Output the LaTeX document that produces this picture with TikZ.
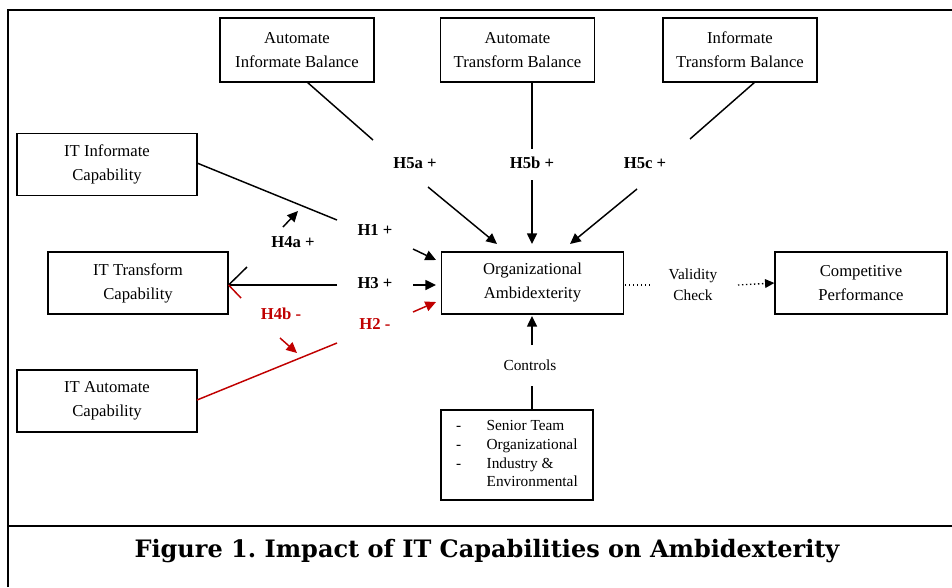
\documentclass[tikz,border=0pt]{standalone}
\usepackage{fontspec}
\setmainfont{Liberation Serif}
\newfontfamily\capfont{DejaVu Serif}
\usetikzlibrary{arrows.meta}
\definecolor{hred}{RGB}{192,0,0}
\frenchspacing
\begin{document}
\begin{tikzpicture}[x=0.75pt,y=-0.75pt,
  box/.style={draw,line width=0.9pt,align=center,inner sep=0pt,font=\fontsize{12.5}{18}\selectfont},
  lbl/.style={inner sep=1pt,font=\bfseries\fontsize{12.5}{14}\selectfont},
  txt/.style={inner sep=1pt,align=center,font=\fontsize{11.5}{16}\selectfont},
  conn/.style={line width=1.1pt},
  arr/.style={conn,-{Triangle[length=8pt,width=7.5pt]}},
  neg/.style={hred},
  dotc/.style={line width=1pt,dotted}]
\useasboundingbox (0,0) rectangle (952,587);
% frame
\draw[line width=1.6pt] (8,587) -- (8,10) -- (952,10);
\draw[line width=1.6pt] (8,526) -- (952,526);
% boxes
\node[box,minimum width=115.5pt,minimum height=48pt] (aib) at (297,50) {Automate\\Informate Balance};
\node[box,minimum width=115pt,minimum height=48pt] (atb) at (517.5,50) {Automate\\Transform Balance};
\node[box,minimum width=115.5pt,minimum height=48pt] (itb) at (740,50) {Informate\\Transform Balance};
\node[box,minimum width=135pt,minimum height=47pt] (iic) at (107,164.5) {IT Informate\\Capability};
\node[box,minimum width=135pt,minimum height=46.5pt] (itc) at (138,283) {IT Transform\\Capability};
\node[box,minimum width=135pt,minimum height=46.5pt] (iac) at (107,401) {IT Automate\\Capability};
\node[box,minimum width=136pt,minimum height=46.5pt] (oa) at (532.5,283) {Organizational\\Ambidexterity};
\node[box,minimum width=129pt,minimum height=46.5pt] (cp) at (861,283) {Competitive\\Performance};
\node[box,minimum width=114pt,minimum height=67.5pt,font=\fontsize{11.5}{14}\selectfont] (ctl) at (517,455)
  {\begin{tabular}{@{}l@{\hspace{19pt}}l@{}}-&Senior Team\\-&Organizational\\-&Industry \&\\&Environmental\end{tabular}};
% labels
\node[lbl] (h5a) at (415,163) {H5a +};
\node[lbl] (h5b) at (532,163) {H5b +};
\node[lbl] (h5c) at (645,163) {H5c +};
\node[lbl] (h1) at (375,230) {H1 +};
\node[lbl] (h3) at (375,283) {H3 +};
\node[lbl,neg] (h2) at (375,324) {H2 -};
\node[lbl] (h4a) at (293,242) {H4a +};
\node[lbl,neg] (h4b) at (281,314) {H4b -};
\node[txt] (ctr) at (530,365) {Controls};
\node[txt] (vc) at (693,285) {Validity\\Check};
% coordinates
\coordinate (a1) at (307,82);   \coordinate (a2) at (373,140);
\coordinate (a3) at (428,187);  \coordinate (a4) at (497,244);
\coordinate (b1) at (532,82);   \coordinate (b2) at (532,149);
\coordinate (b3) at (532,180);  \coordinate (b4) at (532,244);
\coordinate (c1) at (755,82);   \coordinate (c2) at (690,139);
\coordinate (c3) at (637,189);  \coordinate (c4) at (570,244);
\coordinate (i1) at (197,163);  \coordinate (i2) at (337,220);
\coordinate (i3) at (413,249);  \coordinate (i4) at (436,260);
\coordinate (t1) at (337,285);
\coordinate (t0) at (itc.east |- t1);
\coordinate (t3) at (413,285);  \coordinate (t4) at (436,285);
\coordinate (u1) at (197,400);  \coordinate (u2) at (337,343);
\coordinate (u3) at (413,312);  \coordinate (u4) at (436,302);
\coordinate (g1) at (247,267);  \coordinate (g2) at (283,227); \coordinate (g3) at (298,211);
\coordinate (r1) at (241,298);  \coordinate (r2) at (280,338); \coordinate (r3) at (297,353);
\coordinate (k1) at (532,410);  \coordinate (k2) at (532,386);
\coordinate (k3) at (532,345);  \coordinate (k4) at (532,316);
\coordinate (v1) at (625,285);  \coordinate (v2) at (653,285);
\coordinate (v3) at (738,285);
% connectors
\draw[conn] (a1) -- (a2); \draw[arr] (a3) -- (a4);
\draw[conn] (b1) -- (b2); \draw[arr] (b3) -- (b4);
\draw[conn] (c1) -- (c2); \draw[arr] (c3) -- (c4);
\draw[conn] (i1) -- (i2); \draw[arr] (i3) -- (i4);
\draw[conn] (t1) -- (t0); \draw[arr] (t3) -- (t4);
\draw[conn,neg] (u1) -- (u2); \draw[arr,neg] (u3) -- (u4);
\draw[conn] (t0) -- (g1); \draw[arr] (g2) -- (g3);
\draw[conn,neg] (t0) -- (r1); \draw[arr,neg] (r2) -- (r3);
\draw[conn] (k1) -- (k2); \draw[arr] (k3) -- (k4);
\draw[dotc] (v1) -- (v2);
\draw[dotc,-{Triangle[length=7pt,width=6.5pt]}] (v3) -- (cp.west);
% caption
\node[font=\capfont\bfseries\fontsize{18}{21}\selectfont] (cap) at (487,551) {Figure 1. Impact of IT Capabilities on Ambidexterity};
\end{tikzpicture}
\end{document}
